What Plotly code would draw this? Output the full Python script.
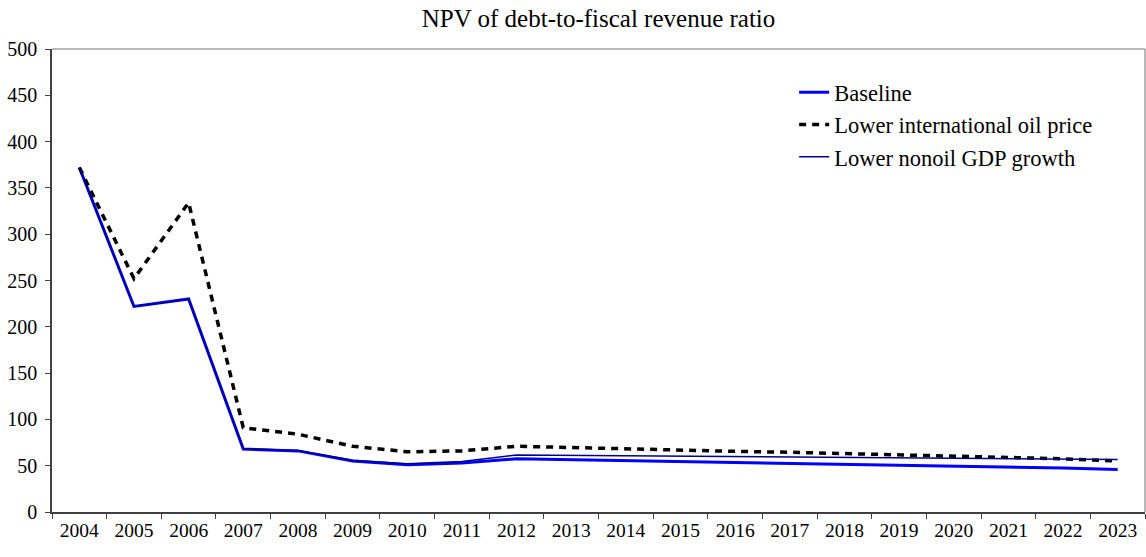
import plotly.graph_objects as go

years = [str(y) for y in range(2004, 2024)]
baseline = [372, 222, 230, 68, 66, 55, 51, 53, 57.5, 56.5, 55.5, 54.8, 54, 53, 52, 51, 50, 49, 47.5, 46]
lower_oil = [372, 252, 334, 91, 84, 71, 65, 66, 71, 69.5, 68, 67, 65.5, 64.5, 63, 61.5, 60.5, 59, 57.5, 55]
lower_nonoil = [372, 222, 230, 68.5, 66.5, 56, 52, 54.5, 61.5, 61, 60.7, 60.3, 60, 59.6, 59.2, 58.8, 58.3, 57.8, 57.2, 56.8]

title_text = "NPV of debt-to-fiscal revenue ratio"
font_family = "Liberation Serif, Times New Roman, serif"

fig = go.Figure()
fig.add_trace(go.Scatter(x=years, y=baseline, mode="lines", name="Baseline",
                         line=dict(color="#0000FF", width=3)))
fig.add_trace(go.Scatter(x=years, y=lower_oil, mode="lines", name="Lower international oil price",
                         line=dict(color="#000000", width=3.5, dash="7px,6px")))
fig.add_trace(go.Scatter(x=years, y=lower_nonoil, mode="lines", name="Lower nonoil GDP growth",
                         line=dict(color="#00008B", width=1.5)))

fig.update_layout(
    width=1146, height=557,
    margin=dict(l=52, r=1, t=49, b=45, autoexpand=False),
    paper_bgcolor="white", plot_bgcolor="white",
    font=dict(family=font_family, size=19, color="black"),
    title=dict(text=title_text, x=0.5, xref="paper", y=0.968, yref="container",
               xanchor="center", yanchor="middle", font=dict(size=25), automargin=False),
    showlegend=True,
    legend=dict(x=0.679, y=0.952, xanchor="left", yanchor="top",
                font=dict(size=22.5), bgcolor="rgba(0,0,0,0)", tracegroupgap=0),
    xaxis=dict(type="category", showgrid=False, showline=True, linecolor="#404040", linewidth=1.5,
               ticks="outside", ticklen=5, tickcolor="#404040", tickson="boundaries",
               range=[-0.5, 19.5], zeroline=False, automargin=False, tickfont=dict(size=19.5)),
    yaxis=dict(range=[0, 500], dtick=50, showgrid=False, showline=True, linecolor="#404040",
               linewidth=1.5, ticks="outside", ticklen=5, tickcolor="#404040", zeroline=False,
               automargin=False, tickfont=dict(size=20), ticklabelstandoff=4),
)

fig.add_shape(type="line", xref="paper", yref="paper", x0=0, x1=1, y0=1, y1=1,
              line=dict(color="#a0a0a0", width=1.5))
fig.add_shape(type="line", xref="paper", yref="paper", x0=1, x1=1, y0=0, y1=1,
              line=dict(color="#a0a0a0", width=1.5))

# remove the page's default body margin so the figure fills the window exactly
fig.write_html("out.html", config={"displayModeBar": False},
               post_script="document.body.style.margin='0';")
